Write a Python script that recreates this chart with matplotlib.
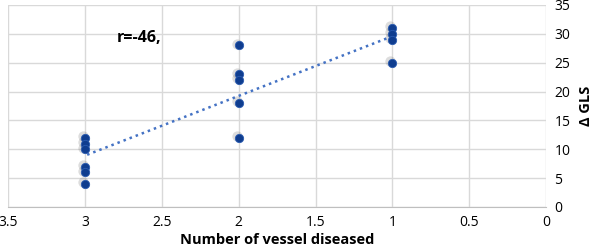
import numpy as np
import matplotlib.pyplot as plt
from matplotlib.transforms import offset_copy

plt.rcParams['font.family'] = ['Open Sans', 'DejaVu Sans']

# number of vessels diseased vs delta GLS
vessels = [3, 3, 3, 3, 3, 3, 2, 2, 2, 2, 2, 1, 1, 1, 1]
gls = [12, 11, 10, 7, 6, 4, 28, 23, 22, 18, 12, 31, 30, 29, 25]
x_ticks = [3.5, 3, 2.5, 2, 1.5, 1, 0.5, 0]
y_ticks = [0, 5, 10, 15, 20, 25, 30, 35]

fig = plt.figure(figsize=(5.98, 2.5), dpi=100)
ax = fig.add_axes([0.0134, 0.172, 0.900, 0.808])

# soft drop shadow behind the markers
shadow = offset_copy(ax.transData, fig=fig, x=-1.5, y=1.2, units='points')
ax.scatter(vessels, gls, s=55, color='#444444', alpha=0.18, linewidths=0,
           transform=shadow, zorder=2)
ax.scatter(vessels, gls, s=36, color='#0f3d8f', edgecolors='#2a5bb0',
           linewidths=0.6, zorder=3)

# linear trendline
k, b = np.polyfit(vessels, gls, 1)
xs = np.array([min(vessels), max(vessels)])
ax.plot(xs, k * xs + b, linestyle=(0, (1, 1.6)), color='#4472c4', lw=1.8, zorder=2)

ax.text(2.79, 29.3, 'r=-46,', fontsize=11.5, fontweight='bold', ha='left', va='center')

ax.set_xlim(3.5, 0)
ax.set_ylim(0, 35)
ax.set_xticks(x_ticks)
ax.set_xticklabels([f'{t:g}' for t in x_ticks])
ax.set_yticks(y_ticks)
ax.yaxis.tick_right()
ax.yaxis.set_label_position('right')
ax.grid(True, color='#d9d9d9', lw=1)
ax.set_axisbelow(True)
for s in ax.spines.values():
    s.set_visible(False)
ax.spines['bottom'].set_visible(True)
ax.spines['bottom'].set_color('#bfbfbf')
ax.tick_params(length=0, labelsize=10, pad=6)

ax.set_xlabel('Number of vessel diseased', fontsize=10.5, fontweight='bold', labelpad=2)
ax.set_ylabel('Δ GLS', fontsize=10.5, fontweight='bold', labelpad=6)

fig.savefig('out.png', dpi=100)
